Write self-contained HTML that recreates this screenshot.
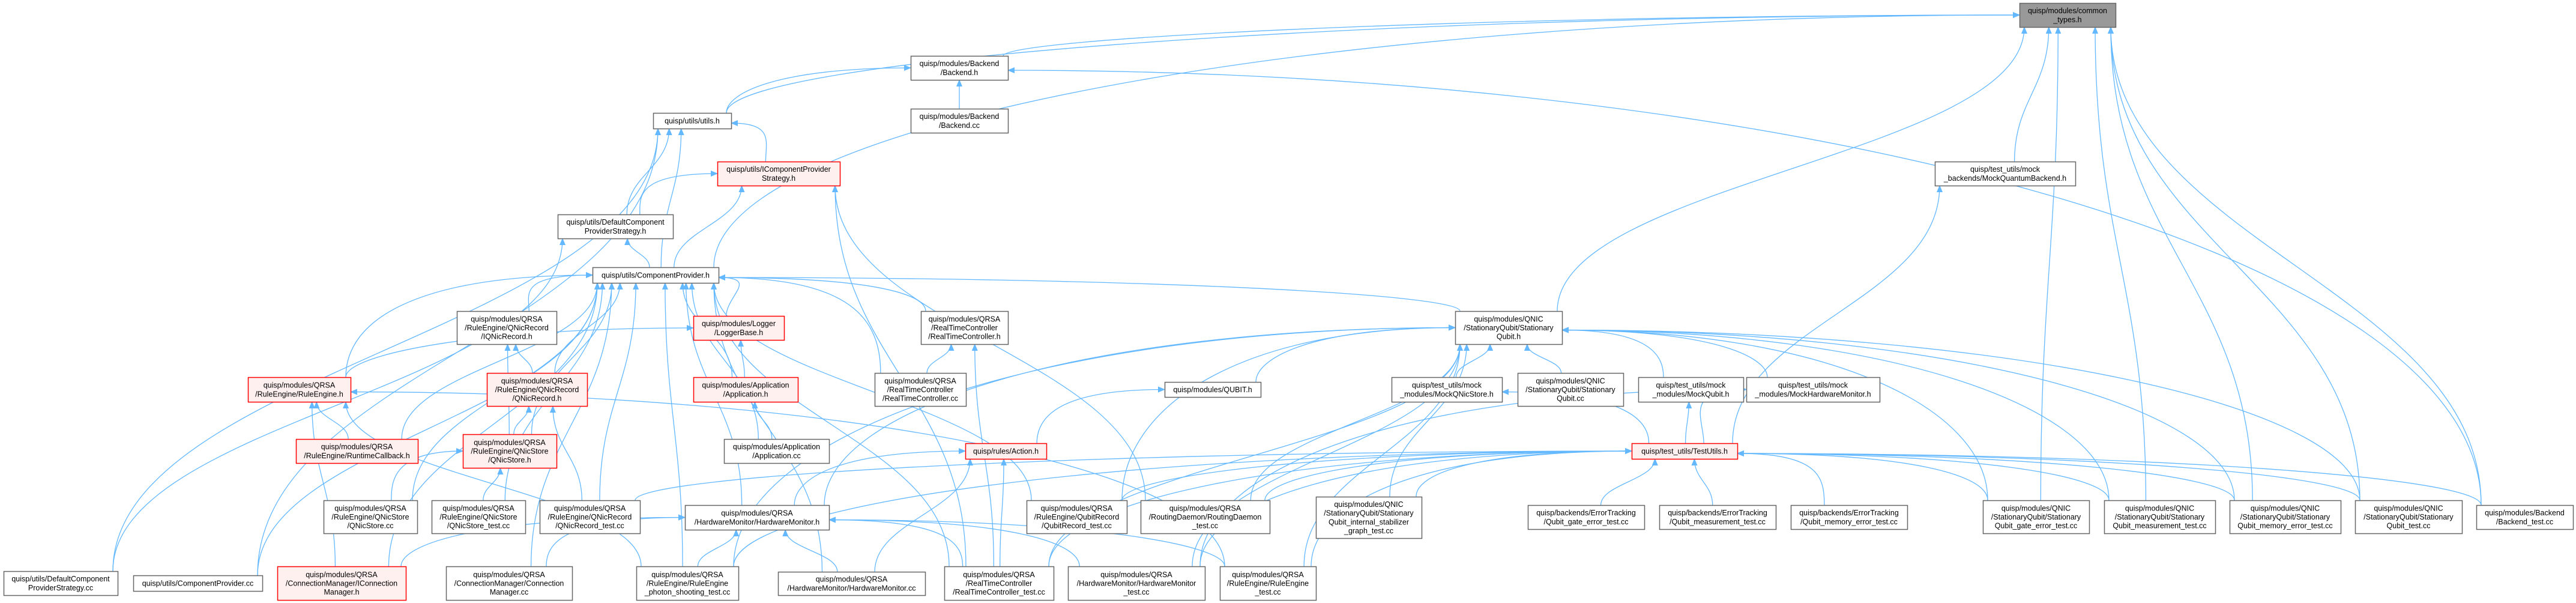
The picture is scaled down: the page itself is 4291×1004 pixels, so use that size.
<!DOCTYPE html>
<html><head><meta charset="utf-8">
<style>
html,body{margin:0;padding:0;background:#fff;}
svg{display:block;}
text{font-family:"Liberation Sans",Arial,sans-serif;font-size:12.5px;fill:#000;}
</style></head>
<body>
<svg id="g" xmlns="http://www.w3.org/2000/svg" width="4291" height="1004" viewBox="0 0 4291 1004">
<defs>
<marker id="ah" markerUnits="userSpaceOnUse" markerWidth="12" markerHeight="10" refX="11" refY="5" orient="auto" viewBox="0 0 12 10">
<path d="M0,0 L12,5 L0,10 z" fill="#63b8ff"/>
</marker>
</defs>
<g id="edges"></g>
<g id="nodes"></g>
</svg>
<script>
var N={
1:[3364,5,160,40,"g",["quisp/modules/common","_types.h"]],
2:[1517,93,162,40,"w",["quisp/modules/Backend","/Backend.h"]],
3:[1517,181,162,40,"w",["quisp/modules/Backend","/Backend.cc"]],
4:[1088,188,130,26,"w",["quisp/utils/utils.h"]],
5:[1195,269,204,40,"r",["quisp/utils/IComponentProvider","Strategy.h"]],
6:[929,357,192,40,"w",["quisp/utils/DefaultComponent","ProviderStrategy.h"]],
7:[987,445,210,26,"w",["quisp/utils/ComponentProvider.h"]],
8:[3223,269,234,40,"w",["quisp/test_utils/mock","_backends/MockQuantumBackend.h"]],
9:[761,518,166,55,"w",["quisp/modules/QRSA","/RuleEngine/QNicRecord","/IQNicRecord.h"]],
10:[413,628,171,41,"r",["quisp/modules/QRSA","/RuleEngine/RuleEngine.h"]],
11:[811,621,167,55,"r",["quisp/modules/QRSA","/RuleEngine/QNicRecord","/QNicRecord.h"]],
12:[493,731,203,40,"r",["quisp/modules/QRSA","/RuleEngine/RuntimeCallback.h"]],
13:[771,723,156,56,"r",["quisp/modules/QRSA","/RuleEngine/QNicStore","/QNicStore.h"]],
14:[539,833,156,55,"w",["quisp/modules/QRSA","/RuleEngine/QNicStore","/QNicStore.cc"]],
15:[719,833,156,55,"w",["quisp/modules/QRSA","/RuleEngine/QNicStore","/QNicStore_test.cc"]],
16:[899,833,167,55,"w",["quisp/modules/QRSA","/RuleEngine/QNicRecord","/QNicRecord_test.cc"]],
17:[6,951,190,40,"w",["quisp/utils/DefaultComponent","ProviderStrategy.cc"]],
18:[222,958,215,26,"w",["quisp/utils/ComponentProvider.cc"]],
19:[462,943,214,56,"r",["quisp/modules/QRSA","/ConnectionManager/IConnection","Manager.h"]],
20:[743,943,210,56,"w",["quisp/modules/QRSA","/ConnectionManager/Connection","Manager.cc"]],
21:[1060,943,170,56,"w",["quisp/modules/QRSA","/RuleEngine/RuleEngine","_photon_shooting_test.cc"]],
22:[1155,526,151,40,"r",["quisp/modules/Logger","/LoggerBase.h"]],
23:[1155,628,174,41,"r",["quisp/modules/Application","/Application.h"]],
24:[1206,731,175,40,"w",["quisp/modules/Application","/Application.cc"]],
25:[1534,518,145,55,"w",["quisp/modules/QRSA","/RealTimeController","/RealTimeController.h"]],
26:[1457,621,152,55,"w",["quisp/modules/QRSA","/RealTimeController","/RealTimeController.cc"]],
27:[1608,738,135,26,"r",["quisp/rules/Action.h"]],
28:[1940,636,160,25,"w",["quisp/modules/QUBIT.h"]],
29:[1141,841,240,41,"w",["quisp/modules/QRSA","/HardwareMonitor/HardwareMonitor.h"]],
30:[1710,833,167,55,"w",["quisp/modules/QRSA","/RuleEngine/QubitRecord","/QubitRecord_test.cc"]],
31:[1900,833,215,55,"w",["quisp/modules/QRSA","/RoutingDaemon/RoutingDaemon","_test.cc"]],
32:[1296,952,245,39,"w",["quisp/modules/QRSA","/HardwareMonitor/HardwareMonitor.cc"]],
33:[1573,943,182,56,"w",["quisp/modules/QRSA","/RealTimeController","/RealTimeController_test.cc"]],
34:[1779,943,228,56,"w",["quisp/modules/QRSA","/HardwareMonitor/HardwareMonitor","_test.cc"]],
35:[2032,943,160,56,"w",["quisp/modules/QRSA","/RuleEngine/RuleEngine","_test.cc"]],
36:[2192,827,176,69,"w",["quisp/modules/QNIC","/StationaryQubit/Stationary","Qubit_internal_stabilizer","_graph_test.cc"]],
37:[2424,518,178,55,"w",["quisp/modules/QNIC","/StationaryQubit/Stationary","Qubit.h"]],
38:[2318,628,184,41,"w",["quisp/test_utils/mock","_modules/MockQNicStore.h"]],
39:[2528,621,176,55,"w",["quisp/modules/QNIC","/StationaryQubit/Stationary","Qubit.cc"]],
40:[2729,628,175,41,"w",["quisp/test_utils/mock","_modules/MockQubit.h"]],
41:[2909,628,222,41,"w",["quisp/test_utils/mock","_modules/MockHardwareMonitor.h"]],
42:[2718,738,176,26,"r",["quisp/test_utils/TestUtils.h"]],
43:[2545,841,194,40,"w",["quisp/backends/ErrorTracking","/Qubit_gate_error_test.cc"]],
44:[2764,841,194,40,"w",["quisp/backends/ErrorTracking","/Qubit_measurement_test.cc"]],
45:[2983,841,194,40,"w",["quisp/backends/ErrorTracking","/Qubit_memory_error_test.cc"]],
46:[3303,833,177,55,"w",["quisp/modules/QNIC","/StationaryQubit/Stationary","Qubit_gate_error_test.cc"]],
47:[3505,833,185,55,"w",["quisp/modules/QNIC","/StationaryQubit/Stationary","Qubit_measurement_test.cc"]],
48:[3714,833,185,55,"w",["quisp/modules/QNIC","/StationaryQubit/Stationary","Qubit_memory_error_test.cc"]],
49:[3923,833,178,55,"w",["quisp/modules/QNIC","/StationaryQubit/Stationary","Qubit_test.cc"]],
50:[4125,841,161,40,"w",["quisp/modules/Backend","/Backend_test.cc"]]
};
var E={
1:[4,2,7,37,8,46,47,48,49,50],
2:[4,3,50],
4:[6,7,5,17,18],
5:[6,7,33,31],
6:[7,17],
7:[9,10,11,13,22,23,25,37,29,14,15,16,18,19,20,21,32,26,30,24,12,33],
9:[11,13],
11:[13,16],
13:[14,15],
10:[12,19,21,35],
22:[23,10],
23:[24],
25:[26,33],
27:[29,32,33],
28:[27],
29:[21,32,33,34,35,19,20],
37:[38,39,40,41,46,47,48,49,36,30,31,33,34,35,21,29,28],
42:[43,44,45,36,46,47,48,49,50,35,34,33,21,30,31,16],
38:[42],40:[42],41:[42,34],8:[42]
};
var NS="http://www.w3.org/2000/svg";
var eg=document.getElementById("edges"),ng=document.getElementById("nodes");
function el(n,a,p){var e=document.createElementNS(NS,n);for(var k in a)e.setAttribute(k,a[k]);p.appendChild(e);return e;}
for(var t in E){
  var T=N[t];var tx=T[0],ty=T[1],tw=T[2],th=T[3];var tcx=tx+tw/2,tb=ty+th;
  E[t].forEach(function(s){
    var S=N[s];var sx=S[0],sy=S[1],sw=S[2],sh=S[3];var scx=sx+sw/2;
    var d;
    if(tb<=sy){
      var dx=scx-tcx,dy=sy-tb;
      var ax=scx-Math.max(-sw/2+8,Math.min(sw/2-8,dx*0.15));
      if(Math.abs(dx)>2.5*dy){
        var dir=dx<0?-1:1;var ex=dir<0?tx:tx+tw;var ey=ty+th/2+ (dir<0?0:4);
        d="M"+ax+","+sy+" C"+ax+","+(sy-dy*0.6)+" "+(ex+dir*Math.abs(dx)*0.5)+","+ey+" "+ex+","+ey;
      }else{
        var ex=tcx+Math.max(-tw/2+8,Math.min(tw/2-8,dx*0.3));
        d="M"+ax+","+sy+" C"+ax+","+(sy-dy*0.45)+" "+ex+","+(tb+dy*0.45)+" "+ex+","+tb;
      }
    }else{
      var dir=scx<tcx?-1:1;var ex=dir<0?tx:tx+tw;var ey=ty+th/2;
      var bx=dir<0?sx+sw:sx;var by=sy+sh/2;
      d="M"+bx+","+by+" C"+((bx+ex)/2)+","+by+" "+((bx+ex)/2)+","+ey+" "+ex+","+ey;
    }
    el("path",{d:d,fill:"none",stroke:"#63b8ff","stroke-width":"1.3","marker-end":"url(#ah)"},eg);
  });
}
for(var k in N){
  var n=N[k];var fill="#ffffff",st="#666666";
  if(n[4]=="r"){fill="#fff0f0";st="#ff0000";}
  if(n[4]=="g"){fill="#999999";st="#666666";}
  el("rect",{x:n[0]+0.5,y:n[1]+0.5,width:n[2],height:n[3],fill:fill,stroke:st,"stroke-width":"1.5"},ng);
  var L=n[5],lh=14.6;var y0=n[1]+n[3]/2-(L.length-1)*lh/2+4.5;
  L.forEach(function(s,i){var te=el("text",{x:n[0]+n[2]/2,y:y0+i*lh,"text-anchor":"middle"},ng);te.textContent=s;});
}
</script>
</body></html>
